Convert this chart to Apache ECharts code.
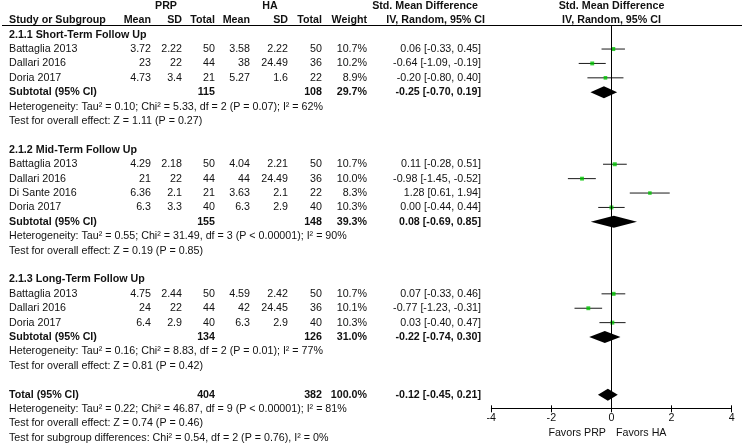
<!DOCTYPE html>
<html><head><meta charset="utf-8">
<script src="https://cdn.jsdelivr.net/npm/echarts@6/dist/echarts.min.js"></script>
<style>html,body{margin:0;padding:0;background:#fff}#c{width:742px;height:445px}</style>
</head><body><div id="c"></div>
<script>
// ---------------- data ----------------
const groupTitles = ['2.1.1 Short-Term Follow Up', '2.1.2 Mid-Term Follow Up', '2.1.3 Long-Term Follow Up'];
const studyGroup = [0, 0, 0, 1, 1, 1, 1, 2, 2, 2];
const studyNames = ['Battaglia 2013', 'Dallari 2016', 'Doria 2017', 'Battaglia 2013', 'Dallari 2016', 'Di Sante 2016', 'Doria 2017', 'Battaglia 2013', 'Dallari 2016', 'Doria 2017'];
const prpMean = [3.72, 23, 4.73, 4.29, 21, 6.36, 6.3, 4.75, 24, 6.4];
const prpSD = [2.22, 22, 3.4, 2.18, 22, 2.1, 3.3, 2.44, 22, 2.9];
const prpN = [50, 44, 21, 50, 44, 21, 40, 50, 44, 40];
const haMean = [3.58, 38, 5.27, 4.04, 44, 3.63, 6.3, 4.59, 42, 6.3];
const haSD = [2.22, 24.49, 1.6, 2.21, 24.49, 2.1, 2.9, 2.42, 24.45, 2.9];
const haN = [50, 36, 22, 50, 36, 22, 40, 50, 36, 40];
const weight = [10.7, 10.2, 8.9, 10.7, 10.0, 8.3, 10.3, 10.7, 10.1, 10.3];
const smd = [0.06, -0.64, -0.20, 0.11, -0.98, 1.28, 0.00, 0.07, -0.77, 0.03];
const ciLo = [-0.33, -1.09, -0.80, -0.28, -1.45, 0.61, -0.44, -0.33, -1.23, -0.40];
const ciHi = [0.45, -0.19, 0.40, 0.51, -0.52, 1.94, 0.44, 0.46, -0.31, 0.47];

const subPrpN = [115, 155, 134];
const subHaN = [108, 148, 126];
const subWeight = [29.7, 39.3, 31.0];
const subSmd = [-0.25, 0.08, -0.22];
const subLo = [-0.70, -0.69, -0.74];
const subHi = [0.19, 0.85, 0.30];
const subHet = [
  'Heterogeneity: Tau² = 0.10; Chi² = 5.33, df = 2 (P = 0.07); I² = 62%',
  'Heterogeneity: Tau² = 0.55; Chi² = 31.49, df = 3 (P < 0.00001); I² = 90%',
  'Heterogeneity: Tau² = 0.16; Chi² = 8.83, df = 2 (P = 0.01); I² = 77%'
];
const subTest = [
  'Test for overall effect: Z = 1.11 (P = 0.27)',
  'Test for overall effect: Z = 0.19 (P = 0.85)',
  'Test for overall effect: Z = 0.81 (P = 0.42)'
];
const totalN = [404, 382];
const totalWeight = [100.0];
const totalEst = [-0.12, -0.45, 0.21];
const totalNotes = [
  'Heterogeneity: Tau² = 0.22; Chi² = 46.87, df = 9 (P < 0.00001); I² = 81%',
  'Test for overall effect: Z = 0.74 (P = 0.46)',
  'Test for subgroup differences: Chi² = 0.54, df = 2 (P = 0.76), I² = 0%'
];
const xTicks = [-4, -2, 0, 2, 4];
const favorsLabels = ['Favors PRP', 'Favors HA'];

// ---------------- layout ----------------
const FONT = '"Liberation Sans", Arial, sans-serif';
const FS = 10.7;
const TXT = '#111';
const COL = { name: 9, pMean: 151, pSD: 182, pN: 215, hMean: 250, hSD: 288, hN: 322, w: 367, ci: 481, ciHead: 485, plot: 611.5 };

const cells = [];
function add(x, row, text, align, bold) { cells.push({ x, row, text: String(text), align, bold: !!bold }); }
const fmtCI = (e, l, h) => e.toFixed(2) + ' [' + l.toFixed(2) + ', ' + h.toFixed(2) + ']';

add(166, 0, 'PRP', 'center', true);
add(270, 0, 'HA', 'center', true);
add(425, 0, 'Std. Mean Difference', 'center', true);
add(COL.plot, 0, 'Std. Mean Difference', 'center', true);
add(COL.name, 1, 'Study or Subgroup', 'left', true);
add(COL.pMean, 1, 'Mean', 'right', true);
add(COL.pSD, 1, 'SD', 'right', true);
add(COL.pN, 1, 'Total', 'right', true);
add(COL.hMean, 1, 'Mean', 'right', true);
add(COL.hSD, 1, 'SD', 'right', true);
add(COL.hN, 1, 'Total', 'right', true);
add(COL.w, 1, 'Weight', 'right', true);
add(COL.ciHead, 1, 'IV, Random, 95% CI', 'right', true);
add(COL.plot, 1, 'IV, Random, 95% CI', 'center', true);

const ciData = [], sqData = [], dmData = [];
let row = 2;
for (let g = 0; g < groupTitles.length; g++) {
  add(COL.name, row, groupTitles[g], 'left', true); row++;
  for (let i = 0; i < studyNames.length; i++) {
    if (studyGroup[i] !== g) continue;
    add(COL.name, row, studyNames[i], 'left');
    add(COL.pMean, row, prpMean[i], 'right');
    add(COL.pSD, row, prpSD[i], 'right');
    add(COL.pN, row, prpN[i], 'right');
    add(COL.hMean, row, haMean[i], 'right');
    add(COL.hSD, row, haSD[i], 'right');
    add(COL.hN, row, haN[i], 'right');
    add(COL.w, row, weight[i].toFixed(1) + '%', 'right');
    add(COL.ci, row, fmtCI(smd[i], ciLo[i], ciHi[i]), 'right');
    ciData.push([ciLo[i], ciHi[i], row]);
    sqData.push([smd[i], row, weight[i]]);
    row++;
  }
  add(COL.name, row, 'Subtotal (95% CI)', 'left', true);
  add(COL.pN, row, subPrpN[g], 'right', true);
  add(COL.hN, row, subHaN[g], 'right', true);
  add(COL.w, row, subWeight[g].toFixed(1) + '%', 'right', true);
  add(COL.ci, row, fmtCI(subSmd[g], subLo[g], subHi[g]), 'right', true);
  dmData.push([subLo[g], subSmd[g], subHi[g], row]);
  row++;
  add(COL.name, row, subHet[g], 'left'); row++;
  add(COL.name, row, subTest[g], 'left'); row++;
  row++;
}
add(COL.name, row, 'Total (95% CI)', 'left', true);
add(COL.pN, row, totalN[0], 'right', true);
add(COL.hN, row, totalN[1], 'right', true);
add(COL.w, row, totalWeight[0].toFixed(1) + '%', 'right', true);
add(COL.ci, row, fmtCI(totalEst[0], totalEst[1], totalEst[2]), 'right', true);
dmData.push([totalEst[1], totalEst[0], totalEst[2], row]);
row++;
totalNotes.forEach(t => { add(COL.name, row, t, 'left'); row++; });
const favRow = 29.67;
add(606, favRow, favorsLabels[0], 'right');
add(616, favRow, favorsLabels[1], 'left');

// ---------------- chart ----------------
const chart = echarts.init(document.getElementById('c'), null, { renderer: 'canvas' });
const ROW_PX = 14.4;
const plotTop = 26, plotRowMin = 1.4, plotRowMax = 27.95;

chart.setOption({
  animation: false,
  backgroundColor: '#fff',
  grid: [
    { left: 0, top: 0, width: 742, height: 445 },
    { left: 491.3, top: plotTop, width: 240.3, height: (plotRowMax - plotRowMin) * ROW_PX }
  ],
  xAxis: [
    { gridIndex: 0, type: 'value', min: 0, max: 742, show: false },
    {
      gridIndex: 1, type: 'value', min: xTicks[0], max: xTicks[xTicks.length - 1], interval: 2, position: 'bottom', offset: 0,
      axisLine: { show: true, onZero: false, lineStyle: { color: '#000', width: 1 } },
      axisTick: { show: true, length: 4, lineStyle: { color: '#000', width: 1 } },
      axisLabel: { show: true, margin: 4, color: TXT, fontSize: FS, fontFamily: FONT },
      splitLine: { show: false }
    },
    {
      gridIndex: 1, type: 'value', min: xTicks[0], max: xTicks[xTicks.length - 1], interval: 2, position: 'bottom', offset: 0,
      axisLine: { show: false, onZero: false },
      axisTick: { show: true, inside: true, length: 3, lineStyle: { color: '#000', width: 1 } },
      axisLabel: { show: false }, splitLine: { show: false }
    }
  ],
  yAxis: [
    { gridIndex: 0, type: 'value', min: -0.4028, max: 30.5, inverse: true, show: false },
    { gridIndex: 1, type: 'value', min: plotRowMin, max: plotRowMax, inverse: true, show: false }
  ],
  graphic: [
    { type: 'line', shape: { x1: 2, y1: 25.5, x2: 742, y2: 25.5 }, style: { stroke: '#000', lineWidth: 1 }, silent: true }
  ],
  series: [
    {
      type: 'custom', xAxisIndex: 0, yAxisIndex: 0, silent: true, clip: false,
      data: cells.map(c => [c.x, c.row]),
      renderItem: (params, api) => {
        const c = cells[params.dataIndex];
        const p = api.coord([api.value(0), api.value(1)]);
        return {
          type: 'text', x: p[0], y: p[1],
          style: {
            text: c.text, fill: TXT, align: c.align, verticalAlign: 'middle',
            font: (c.bold ? 'bold ' : '') + FS + 'px ' + FONT
          }
        };
      }
    },
    {
      type: 'custom', xAxisIndex: 1, yAxisIndex: 1, silent: true,
      data: ciData,
      encode: { x: [0, 1], y: 2 },
      renderItem: (params, api) => {
        const a = api.coord([api.value(0), api.value(2)]);
        const b = api.coord([api.value(1), api.value(2)]);
        return { type: 'line', shape: { x1: a[0], y1: a[1], x2: b[0], y2: b[1] }, style: { stroke: '#1a1a1a', lineWidth: 1 } };
      }
    },
    {
      type: 'scatter', xAxisIndex: 1, yAxisIndex: 1, silent: true,
      symbol: 'rect',
      symbolSize: v => 4 * Math.sqrt(v[2] / 10.7),
      itemStyle: { color: '#00c400' },
      data: sqData,
      markLine: {
        silent: true, symbol: 'none', label: { show: false },
        lineStyle: { color: '#000', width: 1, type: 'solid' },
        data: [{ xAxis: 0 }]
      }
    },
    {
      type: 'custom', xAxisIndex: 1, yAxisIndex: 1, silent: true,
      data: dmData,
      encode: { x: [0, 1, 2], y: 3 },
      renderItem: (params, api) => {
        const r = api.value(3);
        const l = api.coord([api.value(0), r]);
        const m = api.coord([api.value(1), r]);
        const h = api.coord([api.value(2), r]);
        const hh = 6;
        return {
          type: 'polygon',
          shape: { points: [[l[0], l[1]], [m[0], m[1] - hh], [h[0], h[1]], [m[0], m[1] + hh]] },
          style: { fill: '#000' }
        };
      }
    }
  ]
});
</script>
</body></html>
